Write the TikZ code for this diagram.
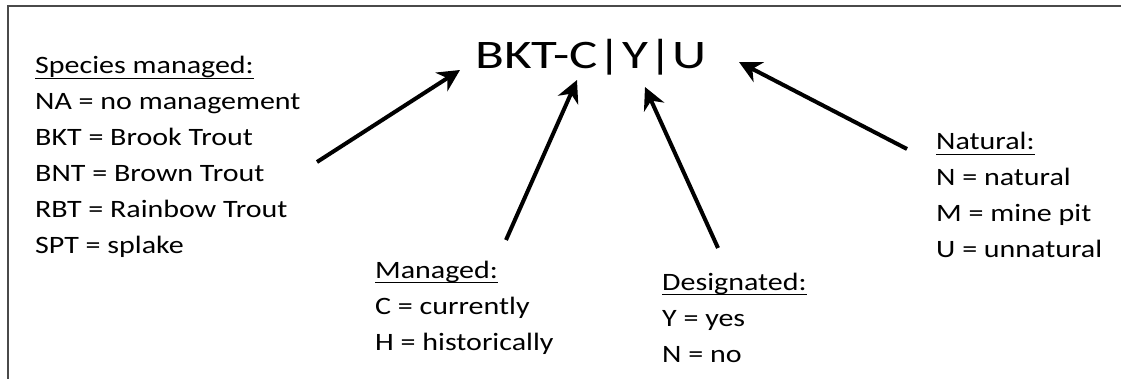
\documentclass[tikz,border=0pt]{standalone}
\usepackage{fontspec}
\setmainfont{Carlito}[FakeStretch=1.2]
\newfontfamily\codefont{Carlito}[FakeStretch=1.31]
\usetikzlibrary{arrows.meta}
\definecolor{frame-gray}{HTML}{4A4A4A}
\newcommand{\hdr}[1]{\setbox0\hbox{#1}\rlap{\rule[-5pt]{\wd0}{1.4pt}}\box0}

\begin{document}
\begin{tikzpicture}[x=1pt, y=-1pt,
    key/.style={anchor=base west, align=left, inner sep=0pt, font=\fontsize{25}{36}\selectfont},
    pointer/.style={line width=4pt, -{Stealth[length=22pt, width=22pt, inset=7pt]}}]
    \useasboundingbox (0,0) rectangle (1121,379);
    % frame, open at the right and the bottom
    \draw[frame-gray, line width=2.5pt] (8,379) -- (8,6) -- (1121,6);
    \node[anchor=base west, inner sep=0pt, font=\codefont\fontsize{40.5}{40}\selectfont] (code) at (475,69) {BKT-C|Y|U};
    % keys, placed at the baseline of their last line
    \node[key] (species) at (35,254) {\hdr{Species managed:}\\NA = no management\\BKT = Brook Trout\\BNT = Brown Trout\\RBT = Rainbow Trout\\SPT = splake};
    \node[key] (managed) at (375,350) {\hdr{Managed:}\\C = currently\\H = historically};
    \node[key] (designated) at (662,362) {\hdr{Designated:}\\Y = yes\\N = no};
    \node[key] (natural) at (936,258) {\hdr{Natural:}\\N = natural\\M = mine pit\\U = unnatural};
    % arrow ends
    \coordinate (spTail) at (317,162);
    \coordinate (spTip) at (460,70);
    \coordinate (mgTail) at (506,240);
    \coordinate (mgTip) at (577,80);
    \coordinate (dsTail) at (718,248);
    \coordinate (dsTip) at (645,87);
    \coordinate (ntTail) at (907,149);
    \coordinate (ntTip) at (739,62);
    \draw[pointer] (spTail) -- (spTip);
    \draw[pointer] (mgTail) -- (mgTip);
    \draw[pointer] (dsTail) -- (dsTip);
    \draw[pointer] (ntTail) -- (ntTip);
\end{tikzpicture}
\end{document}
